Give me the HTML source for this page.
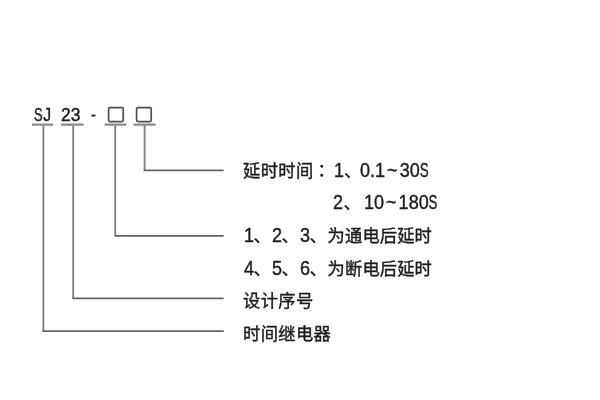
<!DOCTYPE html>
<html lang="zh">
<head>
<meta charset="utf-8">
<title>SJ23</title>
<style>
html,body{margin:0;padding:0;background:#fff;}
body{width:600px;height:400px;position:relative;overflow:hidden;font-family:"Liberation Sans","Noto Sans CJK SC",sans-serif;color:#1c1c1c;filter:blur(0.45px);-webkit-text-stroke:0.4px #1c1c1c;}
.t{position:absolute;white-space:nowrap;font-size:17.25px;line-height:24px;height:24px;letter-spacing:0.4px;}
.t span{position:absolute;top:0;white-space:nowrap;}
.t span.n{font-size:19.6px;letter-spacing:0;transform:scaleX(.92);transform-origin:0 50%;top:-1px;}
.t span i, .c i{font-style:normal;display:inline-block;position:static;}
.t span i.w{padding:0 2.2px;}
.t span i.s, .c i.s{transform:scaleX(.74);transform-origin:0 50%;margin-right:-3px;}
.c{position:absolute;white-space:nowrap;font-size:19px;line-height:24px;transform:scaleX(.92);transform-origin:0 50%;}
svg{position:absolute;left:0;top:0;}
</style>
</head>
<body>
<svg width="600" height="400" viewBox="0 0 600 400" fill="none" stroke-width="1.8">
  <path stroke="#7e7b7b" d="M144.6 125.5V170.2M115.2 125.5V235.8M73.2 125.5V298.3M43.4 125.5V331.2"/>
  <path stroke="#686464" stroke-linecap="round" d="M144.4 170.3H223M115.2 235.8H223M73 298.3H223M43.2 331.2H223"/>
  <path stroke="#8c8a8a" stroke-width="2.3" d="M32 124.6H53M61 124.6H83.5M104.5 124.6H126.5M133.5 124.6H155.5"/>
  <rect x="108.6" y="107.6" width="14.6" height="14" rx="1.3" stroke="#504e4e" stroke-width="1.7"/>
  <rect x="136.6" y="107.6" width="14.6" height="14" rx="1.3" stroke="#504e4e" stroke-width="1.7"/>
</svg>
<div class="c" id="sj" style="left:33.5px;top:102.5px;-webkit-text-stroke-width:0.45px"><i class="s">S</i><i style="margin-left:0px;transform:scaleX(.9);transform-origin:0 50%">J</i></div>
<div class="c" id="n23" style="left:61px;top:102.5px;-webkit-text-stroke-width:0.45px">23</div>
<div class="c" id="dash" style="left:91.1px;top:102.9px;font-size:17.5px;transform:scaleX(.85);-webkit-text-stroke-width:0.3px">-</div>
<div class="t" id="r1" style="left:243px;top:158.5px;"><span style="left:0">延时时间</span><span style="left:74.6px;top:-0.5px">：</span><span class="n" style="left:91px">1</span><span style="left:101px">、</span><span class="n" style="left:117px">0.1<i class="w">~</i>30<i class="s">S</i></span></div>
<div class="t" id="r2" style="left:243px;top:191px;"><span class="n" style="left:90px">2</span><span style="left:100.5px">、</span><span class="n" style="left:121.2px">10<i class="w">~</i>180<i class="s">S</i></span></div>
<div class="t" id="r3" style="left:243px;top:224px;"><span class="n" style="left:0.5px">1</span><span style="left:10.5px">、</span><span class="n" style="left:28.5px">2</span><span style="left:38.5px">、</span><span class="n" style="left:56.5px">3</span><span style="left:66.5px">、</span><span style="left:84.6px;letter-spacing:0.15px">为通电后延时</span></div>
<div class="t" id="r4" style="left:243px;top:256.5px;"><span class="n" style="left:0.5px">4</span><span style="left:10.5px">、</span><span class="n" style="left:28.5px">5</span><span style="left:38.5px">、</span><span class="n" style="left:56.5px">6</span><span style="left:66.5px">、</span><span style="left:84.6px;letter-spacing:0.15px">为断电后延时</span></div>
<div class="t" id="r5" style="left:243px;top:289px;"><span style="left:0">设计序号</span></div>
<div class="t" id="r6" style="left:243px;top:321.5px;"><span style="left:0">时间继电器</span></div>
</body>
</html>
